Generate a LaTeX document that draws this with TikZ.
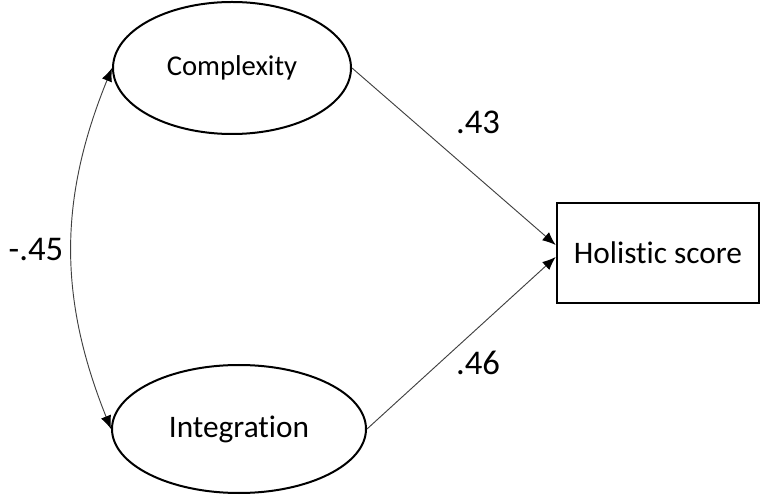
\documentclass[tikz,border=0pt]{standalone}
\usepackage{fontspec}
\setmainfont{Carlito}[Ligatures={NoCommon,NoContextual}]
\usepackage{tikz}
\usetikzlibrary{arrows.meta,%
                shapes,positioning}

\begin{document}
\begin{tikzpicture}[x=0.75pt,y=-0.75pt,
  latent/.style={ellipse,draw,line width=1.5pt,inner sep=0pt},
  observed/.style={rectangle,draw,line width=1.5pt,minimum width=152pt,minimum height=75pt},
  regpath/.style={-{Latex[length=10pt,width=8pt,color=black]},line width=0.7pt,color=black!75},
  coef/.style={font=\fontsize{26}{30}\selectfont}]
\useasboundingbox (0,0) rectangle (761,495);

\node[latent,minimum width=178.5pt,minimum height=99pt,font=\fontsize{21.5}{24}\selectfont] (complexity) at (232,68) {Complexity};
\node[latent,minimum width=190.5pt,minimum height=96pt,font=\fontsize{23.5}{26}\selectfont] (integration) at (239,429) {Integration};
\node[observed,font=\fontsize{23.5}{26}\selectfont] (score) at (658,253) {Holistic score};

\draw[regpath] (complexity.east) -- ([yshift=6pt]score.west);
\draw[regpath] (integration.east) -- ([yshift=-3pt]score.west);
\draw[regpath,{Latex[length=10pt,width=8pt,color=black]}-{Latex[length=10pt,width=8pt,color=black]}] (complexity.west) to[bend right=22] (integration.west);

\node[coef] (c43) at (478,122) {.43};
\node[coef] (c46) at (478,363) {.46};
\node[coef] (c45) at (36,250) {-.45};
\end{tikzpicture}
\end{document}
